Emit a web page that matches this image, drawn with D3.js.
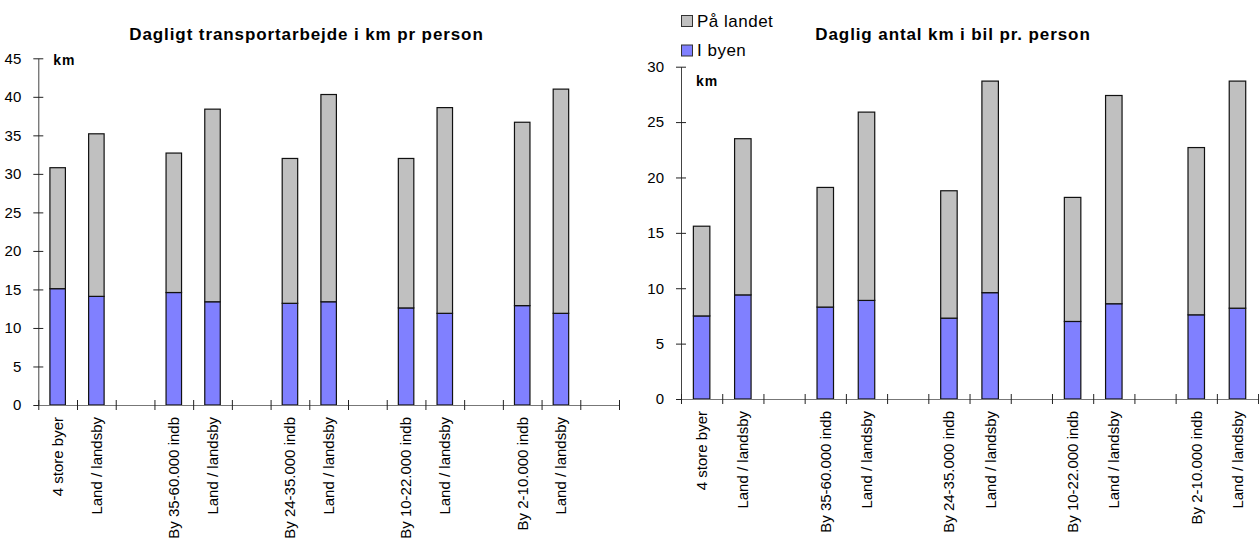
<!DOCTYPE html>
<html>
<head>
<meta charset="utf-8">
<script src="https://cdn.jsdelivr.net/npm/d3@7"></script>
<style>
  html, body { margin: 0; padding: 0; background: #fff; }
  svg { display: block; font-family: "Liberation Sans", Arial, Helvetica, sans-serif; }
</style>
</head>
<body>
<svg id="chart" width="1259" height="543"></svg>
<script>
// Category slots along the x axis; empty strings are spacer slots between groups.
const categories = [
  "4 store byer", "Land / landsby", "",
  "By 35-60.000 indb", "Land / landsby", "",
  "By 24-35.000 indb", "Land / landsby", "",
  "By 10-22.000 indb", "Land / landsby", "",
  "By 2-10.000 indb", "Land / landsby", ""
];

const seriesNames = ["I byen", "På landet"];

// Daily transport distance, km per person
const transportByen   = [15.1, 14.1, null, 14.6, 13.4, null, 13.2, 13.4, null, 12.6, 11.9, null, 12.9, 11.9, null];
const transportLandet = [15.7, 21.1, null, 18.1, 25.0, null, 18.8, 26.9, null, 19.4, 26.7, null, 23.8, 29.1, null];

// Daily km by car per person
const bilByen   = [7.5, 9.4, null, 8.3, 8.9, null, 7.3, 9.6, null, 7.0, 8.6, null, 7.6, 8.2, null];
const bilLandet = [8.1, 14.1, null, 10.8, 17.0, null, 11.5, 19.1, null, 11.2, 18.8, null, 15.1, 20.5, null];

const transportTicks = [0, 5, 10, 15, 20, 25, 30, 35, 40, 45];
const bilTicks = [0, 5, 10, 15, 20, 25, 30];

const colors = { "I byen": "#8080ff", "På landet": "#c0c0c0" };

const svg = d3.select("#chart");

function drawPanel(opt) {
  const g = svg.append("g");

  const x = d3.scaleBand()
    .domain(d3.range(categories.length))
    .range([opt.left, opt.right])
    .paddingInner(0.6)
    .paddingOuter(0.3);

  const slotEdges = d3.scaleLinear()
    .domain([0, categories.length])
    .range([opt.left, opt.right]);

  const y = d3.scaleLinear()
    .domain([0, d3.max(opt.ticks)])
    .range([opt.bottom, opt.top]);

  const rows = categories.map((c, i) => ({
    i,
    "I byen": opt.byen[i] ?? 0,
    "På landet": opt.landet[i] ?? 0,
    present: opt.byen[i] != null
  }));

  const stacked = d3.stack().keys(seriesNames)(rows);

  // stacked bars
  g.append("g").selectAll("g")
    .data(stacked)
    .join("g")
      .attr("fill", d => colors[d.key])
    .selectAll("rect")
    .data(d => d.filter(p => p.data.present))
    .join("rect")
      .attr("x", p => x(p.data.i))
      .attr("width", x.bandwidth())
      .attr("y", p => y(p[1]))
      .attr("height", p => y(p[0]) - y(p[1]))
      .attr("stroke", "#111")
      .attr("stroke-width", 1.2);

  // y axis with ticks crossing the axis line
  const yAxis = g.append("g")
    .attr("transform", `translate(${opt.left},0)`)
    .call(d3.axisLeft(y).tickValues(opt.ticks).tickSizeOuter(0).tickSizeInner(5).tickPadding(12));
  yAxis.select(".domain").attr("stroke", "#444");
  yAxis.selectAll(".tick line").attr("x1", 5).attr("x2", -5).attr("stroke", "#222");
  yAxis.selectAll(".tick text")
    .attr("font-size", 15)
    .attr("fill", "#000")
    .attr("font-family", "'Liberation Sans', Arial, sans-serif");

  // x axis: ticks at slot boundaries
  const xAxis = g.append("g")
    .attr("transform", `translate(0,${opt.bottom})`)
    .call(d3.axisBottom(slotEdges).tickValues(d3.range(categories.length + 1)).tickFormat("").tickSizeOuter(0));
  xAxis.select(".domain").attr("stroke", "#777");
  xAxis.selectAll(".tick line").attr("y1", -5).attr("y2", 5).attr("stroke", "#222");

  // rotated category labels
  g.append("g").selectAll("text")
    .data(categories.map((c, i) => ({ c, i })).filter(d => d.c))
    .join("text")
      .attr("transform", d => `translate(${x(d.i) + x.bandwidth() / 2},${opt.bottom + 12}) rotate(-90)`)
      .attr("text-anchor", "end")
      .attr("dy", "0.36em")
      .attr("font-size", 15)
      .attr("fill", "#000")
      .text(d => d.c);

  // title
  g.append("text")
    .attr("x", opt.titleX)
    .attr("y", 39.5)
    .attr("text-anchor", "middle")
    .attr("font-size", 17)
    .attr("font-weight", "bold")
    .attr("letter-spacing", 0.9)
    .text(opt.title);

  // unit label
  g.append("text")
    .attr("x", opt.left + 15)
    .attr("y", opt.kmY)
    .attr("font-size", 14)
    .attr("font-weight", "bold")
    .attr("letter-spacing", 1)
    .text("km");
}

drawPanel({
  left: 38.3, right: 619, top: 58.3, bottom: 405,
  ticks: transportTicks,
  byen: transportByen, landet: transportLandet,
  title: "Dagligt transportarbejde i km pr person",
  titleX: 306.5, kmY: 64.5
});

drawPanel({
  left: 681, right: 681 + 15 * 41.22, top: 66.7, bottom: 399,
  ticks: bilTicks,
  byen: bilByen, landet: bilLandet,
  title: "Daglig antal km i bil pr. person",
  titleX: 953, kmY: 86
});

// legend (top of the right panel)
const legend = svg.append("g");
const legendItems = ["På landet", "I byen"];
legend.selectAll("rect")
  .data(legendItems)
  .join("rect")
    .attr("x", 681.5)
    .attr("y", (d, i) => 15.5 + i * 29.5)
    .attr("width", 11)
    .attr("height", 11)
    .attr("fill", d => colors[d])
    .attr("stroke", "#333")
    .attr("stroke-width", 1);
legend.selectAll("text")
  .data(legendItems)
  .join("text")
    .attr("x", 697)
    .attr("y", (d, i) => 26.5 + i * 29.5)
    .attr("font-size", 17)
    .attr("letter-spacing", 0.5)
    .text(d => d);
</script>
</body>
</html>
